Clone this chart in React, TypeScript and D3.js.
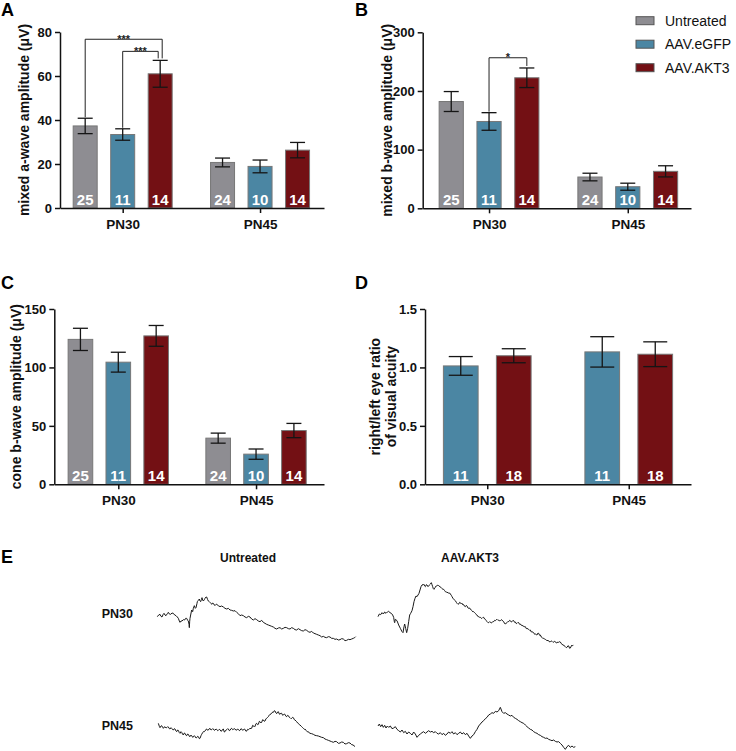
import React, { useRef, useEffect } from 'react';
import * as d3 from 'd3';

// ---- data ----
const groups = ['PN30', 'PN45'];
const ergSeries = ['Untreated', 'AAV.eGFP', 'AAV.AKT3'];
const acuitySeries = ['AAV.eGFP', 'AAV.AKT3'];
const seriesColors: Record<string, string> = {
  Untreated: '#8e8d92',
  'AAV.eGFP': '#4b86a3',
  'AAV.AKT3': '#731014',
};

// A: mixed a-wave (uV), rows = groups, cols = series
const aWaveMean = [[37.3, 33.4, 61.0], [20.7, 18.9, 26.3]];
const aWaveSem = [[3.5, 2.6, 6.1], [2.0, 2.9, 3.5]];
const aWaveN = [[25, 11, 14], [24, 10, 14]];

// B: mixed b-wave (uV)
const bWaveMean = [[182, 148, 222.5], [53.3, 36.8, 63]];
const bWaveSem = [[17, 15, 16.7], [6.5, 6, 9.5]];
const bWaveN = [[25, 11, 14], [24, 10, 14]];

// C: cone b-wave (uV)
const coneMean = [[124, 104.5, 127], [39.5, 25.8, 46]];
const coneSem = [[9.5, 8.5, 8.9], [4.3, 4.4, 6.1]];
const coneN = [[25, 11, 14], [24, 10, 14]];

// D: right/left ratio of visual acuity
const acuityMean = [[1.013, 1.1], [1.133, 1.113]];
const acuitySem = [[0.08, 0.06], [0.13, 0.106]];
const acuityN = [[11, 18], [11, 18]];

// significance brackets (level in data units)
const aWaveSig = [
  { group: 'PN30', from: 'Untreated', to: 'AAV.AKT3', level: 76.7, label: '***', toShift: 2 },
  { group: 'PN30', from: 'AAV.eGFP', to: 'AAV.AKT3', level: 71.2, label: '***', toShift: -2 },
];
const bWaveSig = [
  { group: 'PN30', from: 'AAV.eGFP', to: 'AAV.AKT3', level: 256.6, label: '*', toShift: 0 },
];

// E: ERG traces, [time, amplitude] in arbitrary units
const untreatedPN30: [number, number][] = [[22,-95],[26,-90],[30,-88],[33,-94],[36,-96],[39,-89],[42,-85],[45,-90],[48,-92],[52,-86],[55,-82],[58,-87],[62,-88],[66,-84],[70,-85],[74,-90],[78,-92],[82,-96],[85,-100],[88,-108],[90,-112],[93,-108],[96,-108],[100,-104],[104,-105],[107,-100],[110,-100],[113,-106],[115,-108],[117,-118],[118,-128],[119,-110],[120,-100],[122,-90],[125,-75],[128,-80],[130,-70],[133,-62],[136,-70],[138,-68],[141,-55],[142,-50],[145,-46],[148,-42],[150,-48],[152,-50],[154,-44],[156,-38],[158,-45],[160,-48],[163,-44],[165,-40],[168,-36],[170,-36],[173,-44],[175,-48],[178,-50],[180,-52],[183,-55],[185,-58],[188,-54],[190,-55],[193,-60],[195,-62],[198,-58],[200,-58],[205,-62],[210,-65],[215,-63],[220,-66],[225,-70],[230,-72],[235,-70],[240,-75],[245,-76],[250,-78],[255,-77],[260,-82],[265,-86],[270,-92],[275,-90],[280,-92],[285,-96],[290,-98],[295,-94],[300,-96],[305,-102],[310,-105],[315,-101],[320,-104],[325,-108],[330,-110],[335,-106],[340,-112],[345,-115],[350,-118],[355,-120],[360,-122],[365,-124],[370,-126],[375,-130],[380,-132],[385,-129],[390,-128],[395,-132],[400,-130],[405,-127],[410,-128],[415,-131],[420,-132],[425,-128],[430,-130],[435,-134],[440,-135],[445,-131],[450,-134],[455,-137],[460,-138],[465,-134],[470,-136],[475,-140],[480,-142],[485,-139],[490,-144],[495,-146],[500,-148],[505,-150],[510,-152],[515,-156],[520,-154],[525,-157],[530,-158],[535,-155],[540,-156],[545,-160],[550,-160],[555,-163],[560,-162],[565,-165],[570,-164],[575,-161],[580,-162],[585,-167],[590,-166],[595,-163],[600,-164],[605,-162],[610,-160],[614,-158],[617,-155]];

const untreatedPN45: [number, number][] = [[25,-55],[28,-64],[30,-68],[33,-63],[35,-62],[38,-67],[40,-70],[43,-66],[45,-65],[48,-69],[50,-68],[53,-65],[55,-66],[58,-71],[60,-72],[63,-68],[65,-70],[68,-74],[70,-75],[73,-71],[75,-72],[78,-78],[80,-80],[83,-75],[85,-76],[88,-83],[90,-85],[93,-80],[95,-82],[98,-88],[100,-90],[103,-84],[105,-85],[108,-91],[110,-92],[113,-87],[115,-88],[118,-94],[120,-95],[123,-90],[125,-92],[128,-97],[130,-96],[133,-92],[135,-94],[138,-99],[140,-98],[143,-94],[145,-95],[148,-101],[150,-100],[153,-92],[155,-88],[158,-83],[160,-80],[163,-80],[165,-78],[168,-73],[170,-72],[173,-76],[175,-75],[178,-71],[180,-70],[183,-75],[185,-74],[188,-71],[190,-72],[193,-76],[195,-75],[198,-72],[200,-73],[203,-77],[205,-76],[208,-73],[210,-74],[213,-79],[215,-78],[218,-73],[220,-72],[223,-81],[225,-80],[228,-75],[230,-74],[233,-71],[235,-72],[238,-77],[240,-76],[243,-71],[245,-70],[248,-74],[250,-73],[253,-71],[255,-72],[258,-76],[260,-75],[263,-72],[265,-73],[268,-77],[270,-76],[273,-71],[275,-72],[278,-76],[280,-75],[283,-72],[285,-73],[288,-79],[290,-78],[293,-73],[295,-74],[298,-71],[300,-72],[303,-69],[305,-70],[308,-61],[310,-62],[313,-66],[315,-64],[318,-56],[320,-55],[323,-59],[325,-58],[328,-49],[330,-50],[333,-54],[335,-52],[338,-44],[340,-45],[343,-49],[345,-48],[348,-41],[350,-40],[353,-37],[355,-35],[358,-30],[360,-28],[363,-27],[365,-25],[368,-21],[370,-22],[373,-17],[375,-18],[378,-24],[380,-26],[383,-21],[385,-20],[388,-27],[390,-28],[393,-24],[395,-25],[398,-31],[400,-30],[403,-27],[405,-28],[408,-34],[410,-35],[413,-31],[415,-32],[418,-37],[420,-38],[423,-41],[425,-40],[428,-37],[430,-38],[433,-44],[435,-45],[438,-48],[440,-50],[443,-54],[445,-55],[448,-59],[450,-60],[453,-63],[455,-65],[458,-68],[460,-70],[463,-73],[465,-72],[468,-76],[470,-78],[473,-81],[475,-80],[478,-84],[480,-85],[485,-86],[490,-88],[495,-91],[500,-92],[505,-93],[510,-95],[515,-97],[520,-98],[525,-102],[530,-104],[535,-106],[540,-108],[545,-110],[550,-112],[555,-109],[560,-110],[565,-115],[570,-114],[575,-111],[580,-112],[585,-117],[590,-116],[595,-113],[600,-114],[605,-119],[610,-120],[613,-124],[615,-123]];

const akt3PN30: [number, number][] = [[18,-110],[22,-102],[26,-104],[30,-98],[34,-102],[38,-96],[42,-100],[46,-96],[50,-94],[54,-98],[58,-100],[62,-105],[65,-112],[67,-125],[68,-128],[70,-118],[75,-122],[80,-135],[85,-145],[90,-155],[93,-158],[96,-140],[98,-132],[101,-145],[104,-158],[107,-145],[110,-125],[113,-105],[116,-100],[120,-92],[123,-80],[126,-65],[129,-55],[132,-48],[135,-50],[138,-45],[141,-40],[144,-30],[147,-20],[150,-15],[153,-14],[155,-12],[158,-18],[160,-20],[163,-14],[165,-15],[168,-20],[170,-18],[173,-14],[175,-12],[178,-8],[180,-14],[182,-20],[184,-26],[186,-28],[188,-24],[190,-22],[192,-18],[194,-18],[196,-16],[198,-15],[200,-17],[202,-18],[204,-21],[206,-22],[208,-23],[210,-25],[212,-28],[215,-28],[218,-32],[220,-35],[223,-36],[225,-38],[228,-37],[230,-40],[233,-39],[235,-42],[238,-46],[240,-50],[243,-55],[245,-58],[248,-60],[250,-62],[253,-67],[255,-70],[258,-73],[260,-72],[263,-67],[265,-68],[268,-72],[270,-70],[273,-75],[275,-74],[278,-79],[280,-80],[283,-76],[285,-78],[288,-84],[290,-85],[293,-84],[295,-88],[298,-90],[300,-92],[303,-96],[305,-95],[308,-98],[310,-100],[313,-104],[315,-105],[318,-110],[320,-110],[323,-112],[325,-112],[328,-115],[330,-115],[333,-112],[335,-112],[338,-117],[340,-118],[343,-122],[345,-125],[348,-128],[350,-128],[353,-125],[355,-126],[358,-129],[360,-128],[363,-124],[365,-125],[368,-121],[370,-122],[373,-119],[375,-118],[378,-121],[380,-120],[383,-123],[385,-122],[388,-119],[390,-120],[393,-124],[395,-125],[398,-131],[400,-132],[403,-129],[405,-128],[408,-124],[410,-125],[413,-121],[415,-122],[418,-126],[420,-125],[423,-121],[425,-122],[428,-127],[430,-126],[433,-131],[435,-130],[438,-127],[440,-128],[443,-133],[445,-132],[448,-136],[450,-135],[453,-139],[455,-138],[458,-141],[460,-140],[463,-146],[465,-145],[468,-147],[470,-148],[473,-151],[475,-150],[478,-156],[480,-155],[483,-157],[485,-158],[488,-163],[490,-162],[493,-164],[495,-165],[498,-159],[500,-160],[503,-166],[505,-165],[508,-171],[510,-172],[513,-176],[515,-175],[518,-177],[520,-178],[523,-181],[525,-180],[528,-183],[530,-182],[533,-186],[535,-185],[538,-183],[540,-184],[543,-187],[545,-186],[548,-184],[550,-185],[553,-189],[555,-188],[558,-186],[560,-187],[563,-185],[565,-186],[568,-191],[570,-192],[573,-196],[575,-195],[578,-199],[580,-200],[583,-203],[585,-202],[588,-197],[590,-198],[593,-205],[595,-204],[598,-198],[600,-195],[602,-197],[604,-196]];

const akt3PN45: [number, number][] = [[18,-78],[22,-72],[26,-80],[30,-74],[34,-82],[38,-76],[42,-84],[46,-78],[50,-82],[55,-78],[60,-86],[65,-84],[70,-80],[75,-88],[80,-92],[85,-96],[90,-90],[95,-98],[100,-94],[105,-102],[110,-96],[115,-100],[120,-105],[125,-96],[130,-102],[135,-112],[140,-106],[145,-102],[150,-98],[155,-95],[160,-100],[165,-96],[170,-92],[175,-96],[180,-94],[185,-98],[190,-95],[195,-100],[200,-102],[205,-98],[210,-104],[215,-100],[220,-106],[225,-102],[230,-96],[235,-100],[240,-95],[245,-102],[250,-98],[255,-104],[260,-100],[265,-96],[270,-102],[275,-98],[280,-104],[285,-100],[290,-108],[295,-115],[300,-108],[305,-104],[310,-95],[315,-88],[320,-78],[325,-72],[330,-66],[335,-62],[340,-56],[345,-52],[350,-45],[355,-42],[360,-38],[365,-40],[370,-34],[375,-36],[380,-32],[385,-22],[390,-35],[395,-40],[400,-38],[405,-42],[410,-45],[415,-48],[420,-46],[425,-52],[430,-55],[435,-58],[440,-62],[445,-65],[450,-68],[455,-70],[460,-75],[465,-80],[470,-84],[475,-88],[480,-90],[485,-95],[490,-98],[495,-100],[500,-104],[505,-106],[510,-110],[515,-112],[520,-115],[525,-114],[530,-118],[535,-120],[540,-122],[545,-120],[550,-124],[555,-126],[560,-125],[565,-130],[570,-135],[575,-142],[580,-148],[585,-140],[590,-136],[595,-142],[600,-138],[605,-142],[610,-140]];

const FONT = '"Liberation Sans", Arial, Helvetica, sans-serif';

type Sig = { group: string; from: string; to: string; level: number; label: string; toShift: number };

interface PanelCfg {
  x0: number; x1: number; y0: number; y1: number;
  max: number; ticks: number[]; fmt: (d: number) => string;
  pad: number; align: number; half: number; inner: number; cap: number;
  series: string[]; mean: number[][]; sem: number[][]; n: number[][];
  labelX: number[]; label: string[];
  sig?: Sig[];
}

function drawBarPanel(svg: d3.Selection<SVGSVGElement, unknown, null, undefined>, p: PanelCfg) {
  const g = svg.append('g');
  const y = d3.scaleLinear().domain([0, p.max]).range([p.y0, p.y1]);
  const gx = d3.scalePoint<string>().domain(groups).range([p.x0, p.x1]).padding(p.pad).align(p.align);
  const sx = d3.scaleBand<string>().domain(p.series).range([-p.half, p.half])
    .paddingInner(p.inner).paddingOuter(p.inner / 2);
  const bw = sx.bandwidth();
  const cx = (grp: string, s: string) => (gx(grp) as number) + (sx(s) as number) + bw / 2;

  groups.forEach((grp, gi) => {
    p.series.forEach((s, si) => {
      const m = p.mean[gi][si];
      const e = p.sem[gi][si];
      const c = cx(grp, s);
      g.append('rect')
        .attr('x', c - bw / 2).attr('y', y(m))
        .attr('width', bw).attr('height', y(0) - y(m))
        .attr('fill', seriesColors[s])
        .attr('stroke', '#777').attr('stroke-width', 1);
      const eg = g.append('g').attr('stroke', '#151515').attr('stroke-width', 1.3);
      eg.append('line').attr('x1', c).attr('x2', c).attr('y1', y(m - e)).attr('y2', y(m + e));
      [m - e, m + e].forEach(v => {
        eg.append('line').attr('x1', c - p.cap / 2).attr('x2', c + p.cap / 2).attr('y1', y(v)).attr('y2', y(v));
      });
      g.append('text')
        .attr('x', c).attr('y', y(0) - 3)
        .attr('text-anchor', 'middle')
        .attr('fill', '#fff')
        .style('font', `bold 15px ${FONT}`)
        .text(p.n[gi][si]);
    });
  });

  // brackets
  (p.sig || []).forEach(b => {
    const gi = groups.indexOf(b.group);
    const fi = p.series.indexOf(b.from);
    const ti = p.series.indexOf(b.to);
    const xl = cx(b.group, b.from);
    const xr = cx(b.group, b.to) + b.toShift;
    const yl = y(p.mean[gi][fi] + p.sem[gi][fi]) - 1;
    const yr = y(p.mean[gi][ti] + p.sem[gi][ti]) - 2;
    const yt = y(b.level);
    g.append('path')
      .attr('d', `M${xl},${yl}V${yt}H${xr}V${yr}`)
      .attr('fill', 'none').attr('stroke', '#222').attr('stroke-width', 1);
    g.append('text')
      .attr('x', (xl + xr) / 2).attr('y', yt + 3.5)
      .attr('text-anchor', 'middle')
      .style('font', `bold 11px ${FONT}`)
      .attr('fill', '#222')
      .text(b.label);
  });

  const yAxis = g.append('g').attr('transform', `translate(${p.x0},0)`)
    .call(d3.axisLeft(y).tickValues(p.ticks).tickFormat(p.fmt as any).tickSize(5).tickSizeOuter(0).tickPadding(3));
  const xAxis = g.append('g').attr('transform', `translate(0,${p.y0})`)
    .call(d3.axisBottom(gx).tickSize(5).tickSizeOuter(0).tickPadding(6));
  [yAxis, xAxis].forEach(a => {
    a.selectAll('.domain, .tick line').attr('stroke', '#111').attr('stroke-width', 1.5);
    a.selectAll('.tick text').attr('fill', '#111').style('font', `bold 13px ${FONT}`);
  });
  xAxis.selectAll('.tick text').style('font', `bold 13.5px ${FONT}`);

  p.label.forEach((line, i) => {
    g.append('text')
      .attr('transform', `translate(${p.labelX[i]},${(p.y0 + p.y1) / 2}) rotate(-90)`)
      .attr('text-anchor', 'middle')
      .attr('fill', '#111')
      .style('font', `bold 14px ${FONT}`)
      .text(line);
  });
}

const traces = [
  { data: untreatedPN30, left: 150, top: 585 },
  { data: untreatedPN45, left: 150, top: 705 },
  { data: akt3PN30, left: 372, top: 580 },
  { data: akt3PN45, left: 372, top: 700 },
];

const panelLetters = [
  { t: 'A', x: 1, y: 16 }, { t: 'B', x: 355, y: 16 },
  { t: 'C', x: 1, y: 289 }, { t: 'D', x: 355, y: 289 },
  { t: 'E', x: 1, y: 563 },
];

export default function App() {
  const ref = useRef<SVGSVGElement | null>(null);

  useEffect(() => {
    document.body.style.margin = '0';
    if (!ref.current) return;
    const svg = d3.select(ref.current);
    svg.selectAll('*').remove();

    drawBarPanel(svg, {
      x0: 60, x1: 324, y0: 208, y1: 32, max: 80, ticks: [0, 20, 40, 60, 80], fmt: d3.format('d'),
      pad: 0.461, align: 0.495, half: 56.25, inner: 0.36, cap: 15,
      series: ergSeries, mean: aWaveMean, sem: aWaveSem, n: aWaveN,
      labelX: [29], label: ['mixed a-wave amplitude (\u03bcV)'], sig: aWaveSig,
    });
    drawBarPanel(svg, {
      x0: 422.7, x1: 691, y0: 208.3, y1: 32.3, max: 300, ticks: [0, 100, 200, 300], fmt: d3.format('d'),
      pad: 0.467, align: 0.512, half: 56.7, inner: 0.36, cap: 15,
      series: ergSeries, mean: bWaveMean, sem: bWaveSem, n: bWaveN,
      labelX: [392], label: ['mixed b-wave amplitude (\u03bcV)'], sig: bWaveSig,
    });
    drawBarPanel(svg, {
      x0: 54.3, x1: 324, y0: 484.3, y1: 309, max: 150, ticks: [0, 50, 100, 150], fmt: d3.format('d'),
      pad: 0.479, align: 0.485, half: 56.8, inner: 0.35, cap: 15,
      series: ergSeries, mean: coneMean, sem: coneSem, n: coneN,
      labelX: [20.5], label: ['cone b-wave amplitude (\u03bcV)'],
    });
    drawBarPanel(svg, {
      x0: 425, x1: 691, y0: 484.3, y1: 309, max: 1.5, ticks: [0, 0.5, 1, 1.5], fmt: d3.format('.1f'),
      pad: 0.44, align: 0.5, half: 53, inner: 0.345, cap: 24,
      series: acuitySeries, mean: acuityMean, sem: acuitySem, n: acuityN,
      labelX: [380, 396], label: ['right/left eye ratio', 'of visual acuity'],
    });

    // legend
    const lg = svg.append('g');
    ergSeries.forEach((s, i) => {
      const cy = 20.7 + i * 23.5;
      lg.append('rect').attr('x', 636).attr('y', cy - 4).attr('width', 18).attr('height', 8)
        .attr('fill', seriesColors[s]).attr('stroke', '#555').attr('stroke-width', 1);
      lg.append('text').attr('x', 665).attr('y', cy + 5)
        .attr('fill', '#111').style('font', `14px ${FONT}`).text(s);
    });

    // panel letters
    panelLetters.forEach(l => {
      svg.append('text').attr('x', l.x).attr('y', l.y)
        .attr('fill', '#000').style('font', `bold 18px ${FONT}`).text(l.t);
    });

    // E: traces
    const eg = svg.append('g');
    eg.append('text').attr('x', 220).attr('y', 561.7).style('font', `bold 12px ${FONT}`).attr('fill', '#111').text('Untreated');
    eg.append('text').attr('x', 441).attr('y', 561.7).style('font', `bold 12px ${FONT}`).attr('fill', '#111').text('AAV.AKT3');
    eg.append('text').attr('x', 101.7).attr('y', 618.3).style('font', `bold 12.5px ${FONT}`).attr('fill', '#111').text('PN30');
    eg.append('text').attr('x', 101.7).attr('y', 730).style('font', `bold 12.5px ${FONT}`).attr('fill', '#111').text('PN45');

    traces.forEach(tr => {
      const x = d3.scaleLinear().domain([0, 630]).range([tr.left, tr.left + 210]);
      const y = d3.scaleLinear().domain([0, -300]).range([tr.top, tr.top + 100]);
      const line = d3.line<[number, number]>().x(d => x(d[0])).y(d => y(d[1]));
      eg.append('path').datum(tr.data)
        .attr('d', line)
        .attr('fill', 'none')
        .attr('stroke', '#1a1a1a')
        .attr('stroke-width', 1)
        .attr('stroke-linejoin', 'round');
    });
  }, []);

  return (
    <svg ref={ref} width={736} height={751} style={{ position: 'absolute', left: 0, top: 0, background: '#fff' }} />
  );
}
